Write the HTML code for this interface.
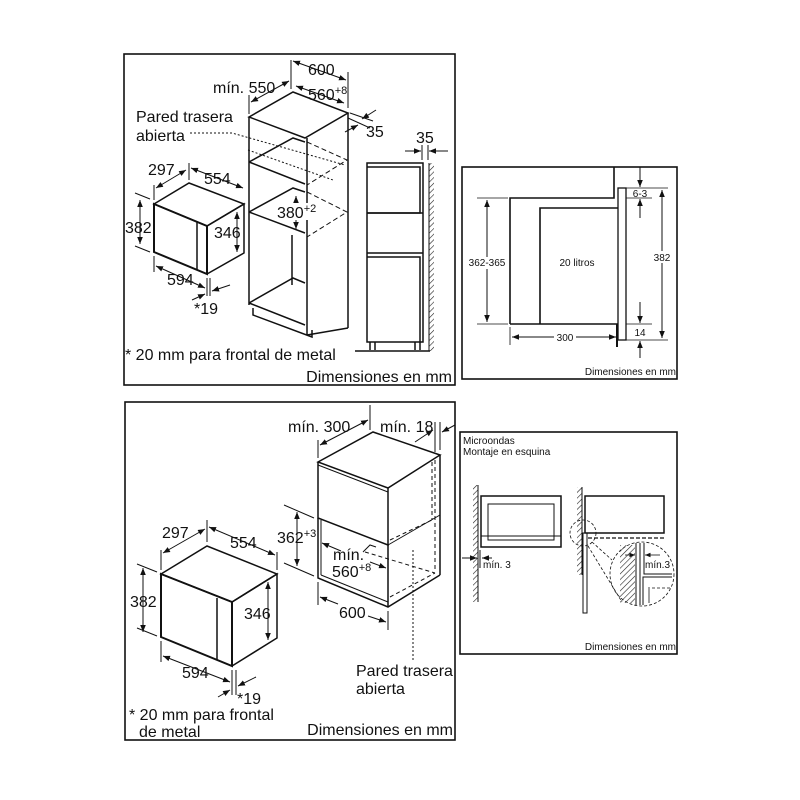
<!DOCTYPE html>
<html><head><meta charset="utf-8"><style>
html,body{margin:0;padding:0;background:#fff;}
svg{display:block;}
text{font-family:"Liberation Sans",Arial,sans-serif;fill:#111;}
.b{font-size:16px;}
.s{font-size:10px;}
</style></head><body>
<svg width="800" height="800" viewBox="0 0 800 800" xmlns="http://www.w3.org/2000/svg">
<defs>
<marker id="a" viewBox="0 0 10 10" refX="10" refY="5" markerWidth="7" markerHeight="7" orient="auto-start-reverse"><path d="M0,1 L10,5 L0,9 z" fill="#111"/></marker>
<pattern id="h" width="4" height="4" patternUnits="userSpaceOnUse" patternTransform="rotate(45)"><line x1="0" y1="0" x2="0" y2="4" stroke="#222" stroke-width="1.2"/></pattern>
</defs>
<g fill="none" stroke="#111" stroke-width="1.5">
<!-- panels -->
<rect x="124" y="54" width="331" height="331" stroke-width="1.6"/>
<rect x="462" y="167" width="215" height="212" stroke-width="1.6"/>
<rect x="125" y="402" width="330" height="338" stroke-width="1.6"/>
<rect x="460" y="432" width="217" height="222" stroke-width="1.6"/>

<!-- TOP LEFT microwave -->
<path d="M154,204 L189,183 L244,204 L207,226 Z"/>
<path d="M154,204 L207,226 L207,274 L154,252 Z" stroke-width="2"/>
<path d="M207,226 L244,204 L244,253 L207,274"/>
<line x1="197" y1="222" x2="197" y2="270"/>
<line x1="154" y1="200" x2="154" y2="185" stroke-width="1"/>
<line x1="189" y1="180" x2="189" y2="163" stroke-width="1"/>
<line x1="156" y1="188" x2="186" y2="170" marker-start="url(#a)" marker-end="url(#a)" stroke-width="1"/>
<line x1="191" y1="168" x2="243" y2="188" marker-start="url(#a)" marker-end="url(#a)" stroke-width="1"/>
<line x1="150" y1="199" x2="135" y2="193" stroke-width="1"/>
<line x1="150" y1="252" x2="135" y2="246" stroke-width="1"/>
<line x1="140" y1="200" x2="140" y2="244" marker-start="url(#a)" marker-end="url(#a)" stroke-width="1"/>
<line x1="237" y1="212" x2="237" y2="252" marker-start="url(#a)" marker-end="url(#a)" stroke-width="1"/>
<line x1="154" y1="256" x2="154" y2="272" stroke-width="1"/>
<line x1="207" y1="278" x2="207" y2="296" stroke-width="1"/>
<line x1="210" y1="278" x2="210" y2="296" stroke-width="1"/>
<line x1="156" y1="266" x2="205" y2="288" marker-start="url(#a)" marker-end="url(#a)" stroke-width="1"/>
<line x1="230" y1="285" x2="212" y2="291" marker-end="url(#a)" stroke-width="1"/>
<line x1="192" y1="300" x2="205" y2="294" marker-end="url(#a)" stroke-width="1"/>

<!-- tall cabinet -->
<path d="M249,117 L293,92 L348,113 L305,138 Z"/>
<line x1="249" y1="117" x2="249" y2="305"/>
<line x1="307" y1="138" x2="307" y2="335"/>
<line x1="348" y1="113" x2="348" y2="328"/>
<line x1="307" y1="335" x2="348" y2="328"/>
<path d="M249,162 L293,138 L305,142 M249,162 L305,184"/>
<path d="M249,212 L293,188 L305,192 M249,212 L305,233"/>
<path d="M249,303 L293,278 L305,283 M249,303 L305,325"/>
<line x1="292" y1="235" x2="292" y2="285"/>
<path d="M253,308 L253,315 L312,337 L312,330"/>
<g stroke-dasharray="5,3" stroke-width="1">
<path d="M307,142 L347,160 L307,185"/>
<path d="M307,192 L347,212 L307,237"/>
</g>
<path d="M190,133 L232,133 L345,165" stroke-dasharray="2,2" stroke-width="1"/>
<line x1="248" y1="150" x2="333" y2="180" stroke-dasharray="2,2" stroke-width="1"/>
<line x1="249" y1="114" x2="249" y2="95" stroke-width="1"/>
<line x1="291" y1="89" x2="291" y2="60" stroke-width="1"/>
<line x1="348" y1="108" x2="348" y2="72" stroke-width="1"/>
<line x1="251" y1="102" x2="289" y2="81" marker-start="url(#a)" marker-end="url(#a)" stroke-width="1"/>
<line x1="293" y1="61" x2="346" y2="80" marker-start="url(#a)" marker-end="url(#a)" stroke-width="1"/>
<line x1="296" y1="86" x2="344" y2="103" marker-start="url(#a)" marker-end="url(#a)" stroke-width="1"/>
<line x1="348" y1="118" x2="370" y2="128" stroke-width="1"/>
<line x1="350" y1="113" x2="373" y2="121" stroke-width="1"/>
<line x1="376" y1="110" x2="362" y2="119" marker-end="url(#a)" stroke-width="1"/>
<line x1="345" y1="132" x2="358" y2="125" marker-end="url(#a)" stroke-width="1"/>
<line x1="296" y1="196" x2="296" y2="229" marker-start="url(#a)" marker-end="url(#a)" stroke-width="1"/>

<!-- side view -->
<rect x="367" y="163" width="56" height="179"/>
<path d="M367,167 L420,167 L420,213 L367,213"/>
<line x1="367" y1="213" x2="423" y2="213"/>
<path d="M367,253 L423,253 M367,257 L420,257 L420,342"/>
<path d="M370,342 V350 M375,342 V350 M415,342 V350 M420,342 V350"/>
<line x1="355" y1="351" x2="430" y2="351"/>
<rect x="429" y="163" width="5" height="188" fill="url(#h)" stroke="none"/>
<line x1="429" y1="163" x2="429" y2="351" stroke-width="1"/>
<line x1="422" y1="145" x2="422" y2="160" stroke-width="1"/>
<line x1="428" y1="145" x2="428" y2="160" stroke-width="1"/>
<line x1="405" y1="151" x2="421" y2="151" marker-end="url(#a)" stroke-width="1"/>
<line x1="448" y1="151" x2="429" y2="151" marker-end="url(#a)" stroke-width="1"/>

<!-- TOP RIGHT panel -->
<path d="M510,324 L510,198 L614,198 L614,167" stroke-width="1.6"/>
<path d="M540,324 L540,208 L618,208" stroke-width="1.6"/>
<line x1="510" y1="324" x2="618" y2="324" stroke-width="1.6"/>
<rect x="618" y="188" width="8" height="152" stroke-width="1.3"/>
<line x1="617" y1="324" x2="617" y2="347" stroke-width="2"/>
<line x1="477" y1="198" x2="508" y2="198" stroke-width="0.8"/>
<line x1="477" y1="324" x2="508" y2="324" stroke-width="0.8"/>
<line x1="487" y1="200" x2="487" y2="322" marker-start="url(#a)" marker-end="url(#a)" stroke-width="1"/>
<line x1="510" y1="327" x2="510" y2="345" stroke-width="0.8"/>
<line x1="512" y1="337" x2="616" y2="337" marker-start="url(#a)" marker-end="url(#a)" stroke-width="1"/>
<line x1="626" y1="188" x2="668" y2="188" stroke-width="0.8"/>
<line x1="626" y1="340" x2="668" y2="340" stroke-width="0.8"/>
<line x1="662" y1="190" x2="662" y2="338" marker-start="url(#a)" marker-end="url(#a)" stroke-width="1"/>
<line x1="626" y1="198" x2="652" y2="198" stroke-width="0.8"/>
<line x1="626" y1="324" x2="652" y2="324" stroke-width="0.8"/>
<line x1="640" y1="167" x2="640" y2="187" marker-end="url(#a)" stroke-width="1"/>
<line x1="640" y1="218" x2="640" y2="199" marker-end="url(#a)" stroke-width="1"/>
<line x1="640" y1="302" x2="640" y2="323" marker-end="url(#a)" stroke-width="1"/>
<line x1="640" y1="358" x2="640" y2="341" marker-end="url(#a)" stroke-width="1"/>

<!-- BOTTOM LEFT microwave -->
<path d="M161,574 L207,546 L277,574 L232,602 Z"/>
<path d="M161,574 L232,602 L232,666 L161,637 Z" stroke-width="2"/>
<path d="M232,602 L277,574 L277,638 L232,666"/>
<line x1="217" y1="598" x2="217" y2="660"/>
<line x1="161" y1="570" x2="161" y2="550" stroke-width="1"/>
<line x1="207" y1="542" x2="207" y2="520" stroke-width="1"/>
<line x1="277" y1="570" x2="277" y2="552" stroke-width="1"/>
<line x1="163" y1="553" x2="205" y2="529" marker-start="url(#a)" marker-end="url(#a)" stroke-width="1"/>
<line x1="209" y1="527" x2="275" y2="555" marker-start="url(#a)" marker-end="url(#a)" stroke-width="1"/>
<line x1="157" y1="572" x2="137" y2="564" stroke-width="1"/>
<line x1="157" y1="636" x2="137" y2="628" stroke-width="1"/>
<line x1="143" y1="568" x2="143" y2="632" marker-start="url(#a)" marker-end="url(#a)" stroke-width="1"/>
<line x1="268" y1="582" x2="268" y2="640" marker-start="url(#a)" marker-end="url(#a)" stroke-width="1"/>
<line x1="161" y1="641" x2="161" y2="662" stroke-width="1"/>
<line x1="232" y1="670" x2="232" y2="695" stroke-width="1"/>
<line x1="236" y1="670" x2="236" y2="695" stroke-width="1"/>
<line x1="163" y1="656" x2="230" y2="682" marker-start="url(#a)" marker-end="url(#a)" stroke-width="1"/>
<line x1="256" y1="677" x2="238" y2="686" marker-end="url(#a)" stroke-width="1"/>
<line x1="218" y1="697" x2="230" y2="690" marker-end="url(#a)" stroke-width="1"/>

<!-- bottom cabinet -->
<path d="M318,462 L373,432 L440,455 L388,488 Z"/>
<path d="M318,462 L318,518 L388,545 L388,488"/>
<line x1="318" y1="465" x2="388" y2="492" stroke-width="1"/>
<line x1="388" y1="545" x2="440" y2="515" stroke-width="1"/>
<line x1="440" y1="455" x2="440" y2="575"/>
<path d="M318,518 L318,578 L388,607 L440,575"/>
<line x1="321" y1="520" x2="321" y2="575" stroke-width="1"/>
<line x1="321" y1="575" x2="388" y2="602" stroke-width="1"/>
<line x1="388" y1="545" x2="388" y2="607"/>
<g stroke-dasharray="4,3" stroke-width="1">
<line x1="432" y1="462" x2="432" y2="520"/>
<line x1="435" y1="460" x2="435" y2="570"/>
<line x1="390" y1="540" x2="432" y2="520"/>
<line x1="390" y1="597" x2="435" y2="573"/>
<line x1="365" y1="552" x2="435" y2="573"/>
</g>
<line x1="413" y1="550" x2="413" y2="660" stroke-dasharray="2,2" stroke-width="1"/>
<line x1="318" y1="458" x2="318" y2="440" stroke-width="1"/>
<line x1="370" y1="430" x2="370" y2="405" stroke-width="1"/>
<line x1="320" y1="445" x2="368" y2="420" marker-start="url(#a)" marker-end="url(#a)" stroke-width="1"/>
<line x1="435" y1="452" x2="435" y2="422" stroke-width="1"/>
<line x1="440" y1="450" x2="440" y2="422" stroke-width="1"/>
<line x1="415" y1="442" x2="433" y2="430" marker-end="url(#a)" stroke-width="1"/>
<line x1="455" y1="425" x2="442" y2="432" marker-end="url(#a)" stroke-width="1"/>
<line x1="314" y1="518" x2="284" y2="505" stroke-width="1"/>
<line x1="314" y1="576" x2="284" y2="563" stroke-width="1"/>
<line x1="297" y1="512" x2="297" y2="566" marker-start="url(#a)" marker-end="url(#a)" stroke-width="1"/>
<line x1="341" y1="551" x2="322" y2="543" marker-end="url(#a)" stroke-width="1"/>
<line x1="370" y1="562" x2="386" y2="568" marker-end="url(#a)" stroke-width="1"/>
<path d="M363,552 L370,545 L376,547" stroke-width="1"/>
<line x1="318" y1="582" x2="318" y2="605" stroke-width="1"/>
<line x1="388" y1="611" x2="388" y2="630" stroke-width="1"/>
<line x1="320" y1="597" x2="338" y2="604" marker-start="url(#a)" stroke-width="1"/>
<line x1="368" y1="616" x2="386" y2="622" marker-end="url(#a)" stroke-width="1"/>

<!-- BOTTOM RIGHT -->
<rect x="473" y="485" width="5" height="117" fill="url(#h)" stroke="none"/>
<line x1="478" y1="485" x2="478" y2="602" stroke-width="1"/>
<rect x="481" y="496" width="80" height="51"/>
<rect x="488" y="504" width="66" height="36" stroke-width="1"/>
<line x1="481" y1="536" x2="561" y2="536" stroke-width="1"/>
<line x1="480" y1="550" x2="480" y2="568" stroke-width="1"/>
<line x1="462" y1="558" x2="477" y2="558" marker-end="url(#a)" stroke-width="1"/>
<line x1="492" y1="558" x2="482" y2="558" marker-end="url(#a)" stroke-width="1"/>
<rect x="577" y="487" width="5" height="88" fill="url(#h)" stroke="none"/>
<line x1="582" y1="487" x2="582" y2="575" stroke-width="1"/>
<rect x="583" y="533" width="4" height="80" stroke-width="1"/>
<rect x="585" y="496" width="79" height="37"/>
<line x1="588" y1="538" x2="664" y2="538" stroke-dasharray="4,2" stroke-width="1.2"/>
<circle cx="583" cy="533" r="13" stroke-dasharray="3,2" stroke-width="0.8"/>
<circle cx="642" cy="574" r="32" stroke-dasharray="3,2" stroke-width="0.8"/>
<line x1="592" y1="542" x2="612" y2="560" stroke-dasharray="3,2" stroke-width="0.8"/>
<line x1="588" y1="546" x2="622" y2="602" stroke-dasharray="3,2" stroke-width="0.8"/>
<rect x="620" y="545" width="15" height="58" fill="url(#h)" stroke="none"/>
<line x1="636" y1="543" x2="636" y2="605" stroke-width="1"/>
<line x1="640" y1="543" x2="640" y2="605" stroke-width="1"/>
<path d="M644,543 L644,574 L672,574" stroke-width="1"/>
<path d="M643,605 L643,577 L672,577" stroke-width="1"/>
<line x1="652" y1="588" x2="672" y2="588" stroke-dasharray="3,2" stroke-width="0.8"/>
<line x1="649" y1="587" x2="649" y2="603" stroke-width="0.8"/>
<line x1="625" y1="555" x2="635" y2="555" marker-end="url(#a)" stroke-width="0.8"/>
<line x1="660" y1="555" x2="645" y2="555" marker-end="url(#a)" stroke-width="0.8"/>
</g>

<!-- label backgrounds -->
<g fill="#fff" stroke="none">
<rect x="468" y="257" width="38" height="12"/>
<rect x="554" y="331" width="22" height="12"/>
<rect x="653" y="251" width="18" height="12"/>
<rect x="277" y="203" width="36" height="17"/>
</g>

<!-- texts -->
<text class="b" x="308" y="75">600</text>
<text class="b" x="213" y="93">mín. 550</text>
<text class="b" x="308" y="100">560<tspan font-size="11" dy="-6">+8</tspan></text>
<text class="b" x="366" y="137">35</text>
<text class="b" x="136" y="122">Pared trasera</text>
<text class="b" x="136" y="141">abierta</text>
<text class="b" x="148" y="175">297</text>
<text class="b" x="204" y="184">554</text>
<text class="b" x="125" y="233">382</text>
<text class="b" x="214" y="238">346</text>
<text class="b" x="167" y="285">594</text>
<text class="b" x="194" y="314">*19</text>
<text class="b" x="277" y="218">380<tspan font-size="11" dy="-6">+2</tspan></text>
<text class="b" x="416" y="143">35</text>
<text class="b" x="125" y="360">* 20 mm para frontal de metal</text>
<text class="b" x="452" y="382" text-anchor="end">Dimensiones en mm</text>

<text class="s" x="487" y="266" text-anchor="middle">362-365</text>
<text class="s" x="577" y="266" text-anchor="middle">20 litros</text>
<text class="s" x="565" y="341" text-anchor="middle">300</text>
<text class="s" x="662" y="261" text-anchor="middle">382</text>
<text class="s" x="640" y="197" text-anchor="middle">6-3</text>
<text class="s" x="640" y="336" text-anchor="middle">14</text>
<text class="s" x="676" y="375" text-anchor="end">Dimensiones en mm</text>

<text class="b" x="288" y="432">mín. 300</text>
<text class="b" x="380" y="432">mín. 18</text>
<text class="b" x="277" y="543">362<tspan font-size="11" dy="-6">+3</tspan></text>
<text class="b" x="333" y="560">mín.</text>
<text class="b" x="332" y="577">560<tspan font-size="11" dy="-6">+8</tspan></text>
<text class="b" x="339" y="618">600</text>
<text class="b" x="356" y="676">Pared trasera</text>
<text class="b" x="356" y="694">abierta</text>
<text class="b" x="162" y="538">297</text>
<text class="b" x="230" y="548">554</text>
<text class="b" x="130" y="607">382</text>
<text class="b" x="244" y="619">346</text>
<text class="b" x="182" y="678">594</text>
<text class="b" x="237" y="704">*19</text>
<text class="b" x="129" y="720">* 20 mm para frontal</text>
<text class="b" x="139" y="737">de metal</text>
<text class="b" x="453" y="735" text-anchor="end">Dimensiones en mm</text>

<text class="s" x="463" y="444">Microondas</text>
<text class="s" x="463" y="455">Montaje en esquina</text>
<text class="s" x="483" y="568">mín. 3</text>
<text class="s" x="645" y="568">mín.3</text>
<text class="s" x="676" y="650" text-anchor="end">Dimensiones en mm</text>
</svg>
</body></html>
